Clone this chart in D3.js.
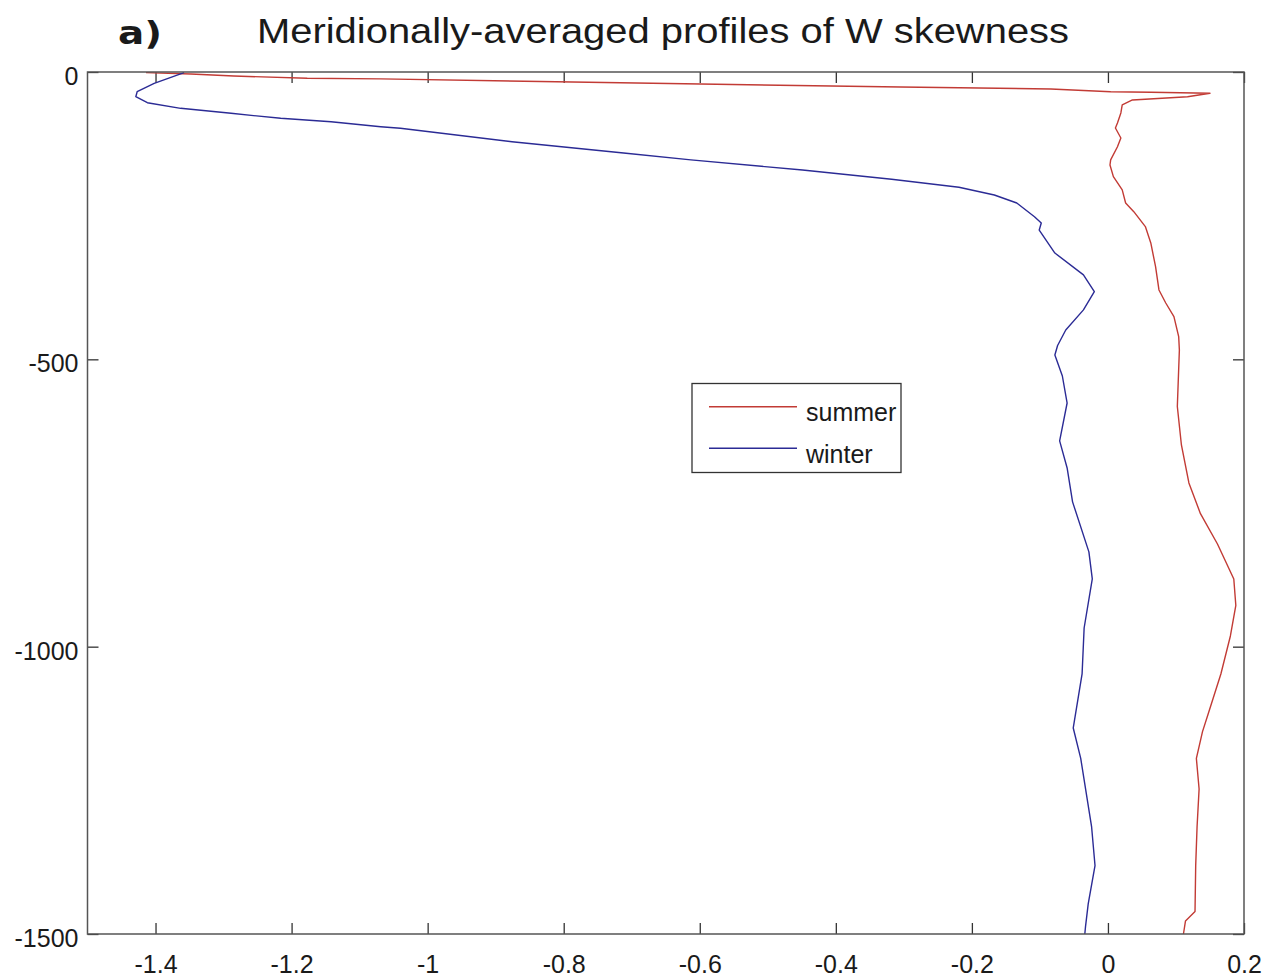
<!DOCTYPE html>
<html>
<head>
<meta charset="utf-8">
<script src="https://cdn.jsdelivr.net/npm/d3@7"></script>
<style>
    body { margin: 0; background: #fff; }
    svg text { font-family: "Liberation Sans", Arial, sans-serif; fill: #1a1a1a; }
</style>
</head>
<body>
<svg id="chart" width="1266" height="978"></svg>
<script>
// Summer profile (skewness vs depth)
let summerDepth = [-1, -3.5, -7, -11, -12, -21, -26, -29.6, -34.3, -35.3, -37, -43, -48.7, -57.4, -71.3, -88.7, -97.4,
    -114.8, -130, -153, -161.8, -182, -205, -228, -243, -269, -297.5, -338.8, -379.3, -402, -425.8, -460.6, -483.7,
    -582, -649, -715, -768.6, -821.3, -882.2, -928.3, -981.4, -1047.5, -1114.7, -1147.9, -1194.5, -1247.6, -1313.7,
    -1380.9, -1460.8, -1477.3, -1500];
let summerSkew = [-1.414, -1.348, -1.285, -1.177, -1.069, -0.599, -0.305, -0.084, 0.004, 0.063, 0.150, 0.117, 0.036,
    0.021, 0.019, 0.014, 0.011, 0.019, 0.014, 0.004, 0.003, 0.008, 0.021, 0.026, 0.038, 0.055, 0.063, 0.070, 0.075,
    0.085, 0.097, 0.104, 0.105, 0.102, 0.108, 0.119, 0.136, 0.161, 0.185, 0.188, 0.180, 0.166, 0.148, 0.139, 0.130,
    0.134, 0.131, 0.129, 0.128, 0.114, 0.111];

// Winter profile
let winterDepth = [-1, -19.7, -34.3, -43, -53.4, -63.2, -71.9, -80.6, -86.5, -95.2, -98, -121.3, -141, -153, -170.5,
    -186.7, -200.6, -214, -228, -251.8, -262.7, -275, -315, -353, -382.3, -414, -449, -476, -492.4, -529, -576, -642,
    -689, -748, -835, -882, -967.5, -1047.5, -1141.5, -1194.5, -1313.7, -1380.9, -1447.7, -1487.7, -1500];
let winterSkew = [-1.358, -1.402, -1.427, -1.429, -1.412, -1.363, -1.289, -1.216, -1.142, -1.069, -1.040, -0.876,
    -0.712, -0.613, -0.449, -0.318, -0.219, -0.167, -0.134, -0.108, -0.098, -0.101, -0.078, -0.036, -0.020, -0.036,
    -0.062, -0.074, -0.078, -0.067, -0.060, -0.071, -0.060, -0.052, -0.028, -0.023, -0.035, -0.038, -0.051, -0.040,
    -0.024, -0.019, -0.029, -0.033, -0.034];

let xTicks = [-1.4, -1.2, -1, -0.8, -0.6, -0.4, -0.2, 0, 0.2];
let yTicks = [0, -500, -1000, -1500];
let seriesNames = ['summer', 'winter'];
let seriesColors = ['#c23b35', '#2b2b95'];

function drawChart() {
    let svg = d3.select('#chart');
    let left = 87.5, right = 1244, top = 72, bottom = 934;

    let x = d3.scaleLinear().domain([-1.5, 0.2]).range([left, right]);
    let y = d3.scaleLinear().domain([-1500, 0]).range([bottom, top]);

    // Title
    svg.append('text')
        .attr('x', 118).attr('y', 44)
        .attr('textLength', 44).attr('lengthAdjust', 'spacingAndGlyphs')
        .style('font-family', '"DejaVu Sans", sans-serif')
        .style('font-weight', 'bold').style('font-size', '32px')
        .text('a)');
    svg.append('text')
        .attr('x', 257).attr('y', 43)
        .attr('textLength', 812).attr('lengthAdjust', 'spacingAndGlyphs')
        .style('font-size', '35px')
        .text('Meridionally-averaged profiles of W skewness');

    // Axes box with inward ticks on every side
    let tickLen = 11;
    svg.append('g')
        .attr('transform', `translate(0,${bottom})`)
        .call(d3.axisBottom(x).tickValues(xTicks).tickSize(-tickLen).tickFormat(d => d))
        .call(g => g.select('.domain').remove())
        .call(g => g.selectAll('text').style('font-size', '25px').attr('dy', '0.71em').attr('y', 21));
    svg.append('g')
        .attr('transform', `translate(0,${top})`)
        .call(d3.axisTop(x).tickValues(xTicks).tickSize(-tickLen).tickFormat(''))
        .call(g => g.select('.domain').remove());
    svg.append('g')
        .attr('transform', `translate(${left},0)`)
        .call(d3.axisLeft(y).tickValues(yTicks).tickSize(-tickLen).tickPadding(9).tickFormat(d => d))
        .call(g => g.select('.domain').remove())
        .call(g => g.selectAll('text').style('font-size', '25px').attr('dy', '0.5em'));
    svg.append('g')
        .attr('transform', `translate(${right},0)`)
        .call(d3.axisRight(y).tickValues(yTicks).tickSize(-tickLen).tickFormat(''))
        .call(g => g.select('.domain').remove());

    svg.selectAll('.tick line').attr('stroke', '#333').attr('stroke-width', 1.3);

    // Profiles
    let line = d3.line()
        .x(d => x(d.v))
        .y(d => y(d.z));

    let summer = summerDepth.map((z, i) => ({ z, v: summerSkew[i] }));
    let winter = winterDepth.map((z, i) => ({ z, v: winterSkew[i] }));

    [summer, winter].forEach((data, i) => {
        svg.append('path')
            .datum(data)
            .attr('fill', 'none')
            .attr('stroke', seriesColors[i])
            .attr('stroke-width', 1.4)
            .attr('stroke-linejoin', 'round')
            .attr('d', line);
    });

    svg.append('rect')
        .attr('x', left).attr('y', top)
        .attr('width', right - left).attr('height', bottom - top)
        .attr('fill', 'none').attr('stroke', '#555').attr('stroke-width', 1.5);

    // Legend
    let legend = svg.append('g');
    legend.append('rect')
        .attr('x', 692).attr('y', 383.5).attr('width', 209).attr('height', 89)
        .attr('fill', '#fff').attr('stroke', '#333').attr('stroke-width', 1.3);
    seriesNames.forEach((name, i) => {
        let ly = 406.7 + i * 41.6;
        legend.append('line')
            .attr('x1', 709).attr('x2', 797).attr('y1', ly).attr('y2', ly)
            .attr('stroke', seriesColors[i]).attr('stroke-width', 1.4);
        legend.append('text')
            .attr('x', 806).attr('y', ly + 14.5)
            .style('font-size', '25px')
            .text(name);
    });
}

drawChart();
</script>
</body>
</html>
